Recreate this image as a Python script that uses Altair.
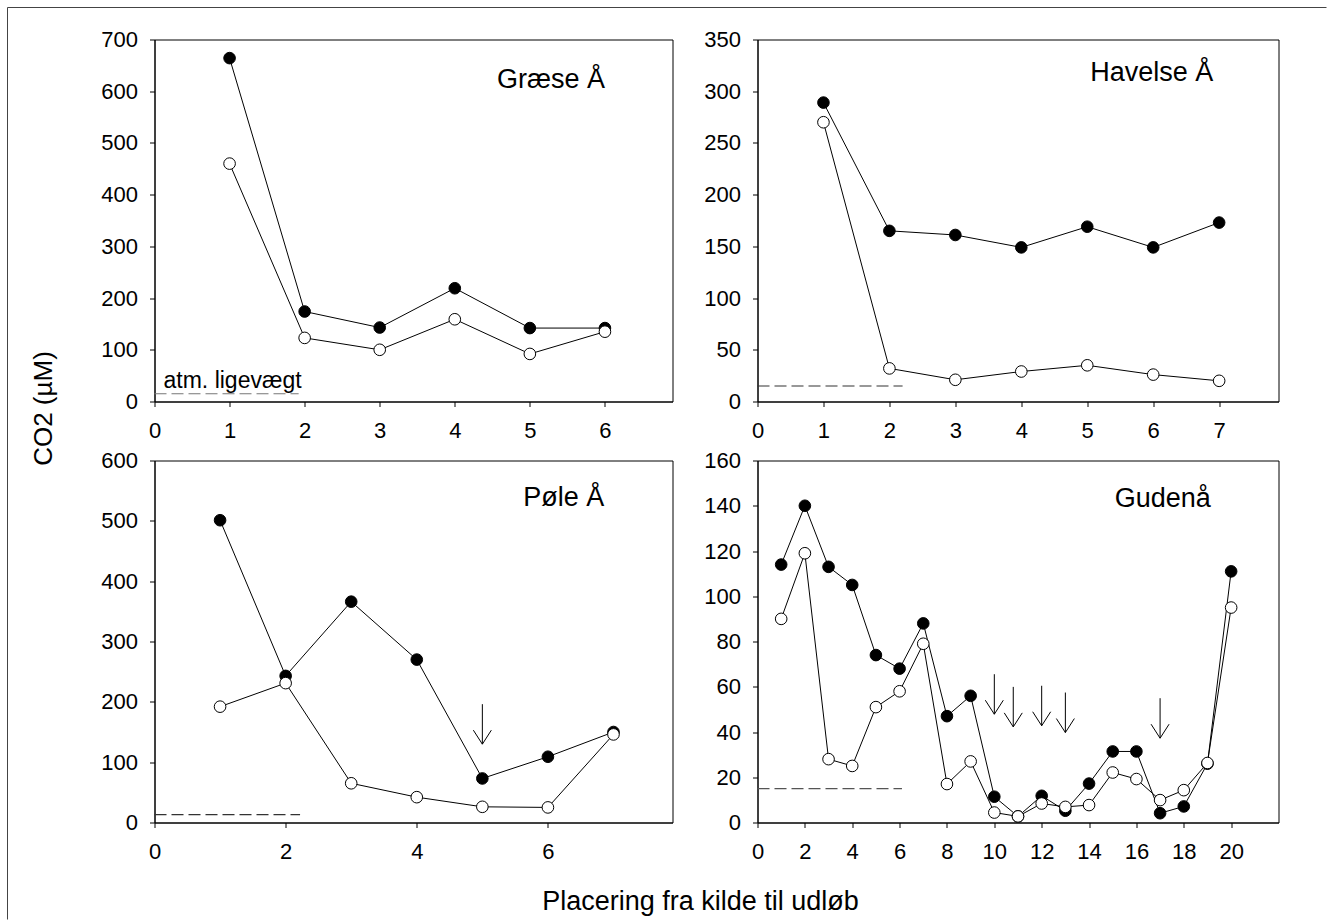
import altair as alt
import pandas as pd

FONT = "Liberation Sans"

# ---------------- data ----------------
graese_pos = [1, 2, 3, 4, 5, 6]
graese_filled = [664, 174, 143, 219, 142, 142]
graese_open = [460, 123, 100, 159, 92, 135]

havelse_pos = [1, 2, 3, 4, 5, 6, 7]
havelse_filled = [289, 165, 161, 149, 169, 149, 173]
havelse_open = [270, 32, 21, 29, 35, 26, 20]

pole_pos = [1, 2, 3, 4, 5, 6, 7]
pole_filled = [501, 243, 366, 270, 73, 109, 150]
pole_open = [192, 231, 65, 42, 26, 25, 146]

gudena_pos = list(range(1, 21))
gudena_filled = [114, 140, 113, 105, 74, 68, 88, 47, 56, 11.4, 2.7, 11.8, 5.2,
                 17.2, 31.4, 31.4, 4.1, 7.1, 26, 111]
gudena_open = [90, 119, 28, 25, 51, 58, 79, 17, 27, 4.4, 2.7, 8.4, 6.9,
               7.7, 22.1, 19.2, 9.9, 14.3, 26.3, 95]

# atmospheric equilibrium (dashed line): end position and level per panel
atm_x_end = [1.92, 2.2, 2.22, 6.1]
atm_level = [15, 15, 13, 15]
atm_color = ["#777777", "#333333", "#333333", "#555555"]

panel_names = ["Græse Å", "Havelse Å", "Pøle Å", "Gudenå"]
label_x = [6.0, 6.91, 6.86, 19.14]
label_y = [607, 310, 524, 139.5]

# arrows (position, mid-height)
pole_arrow_x = [5]
pole_arrow_y = [163]
gudena_arrow_x = [10, 10.8, 12, 13, 17]
gudena_arrow_y = [56.7, 51.1, 51.6, 48.6, 46.1]

atm_text = "atm. ligevægt"
atm_text_x = [0.12]
atm_text_y = [27]

x_title = "Placering fra kilde til udløb"
y_title = "CO2 (µM)"

ARROW = "M0,-1L0,1M-0.45,0.3L0,1L0.45,0.3"


def make_panel(i, pos, filled, opened, xdom, xvals, ydom, yvals, width,
               arrow_x=None, arrow_y=None, extra=None):
    X = alt.X("x:Q", scale=alt.Scale(domain=xdom, nice=False, zero=False),
              axis=alt.Axis(values=xvals, title=None, format="d"))
    Y = alt.Y("y:Q", scale=alt.Scale(domain=ydom, nice=False, zero=False),
              axis=alt.Axis(values=yvals, title=None, format="d"))
    df_f = pd.DataFrame({"x": pos, "y": filled})
    df_o = pd.DataFrame({"x": pos, "y": opened})
    ref = pd.DataFrame({"x": [0], "x2": [atm_x_end[i]], "y": [atm_level[i]]})
    lab = pd.DataFrame({"x": [label_x[i]], "y": [label_y[i]], "t": [panel_names[i]]})

    layers = [
        alt.Chart(ref).mark_rule(color=atm_color[i], strokeWidth=1.2, strokeDash=[12, 5])
        .encode(x=X, x2="x2:Q", y=Y),
        alt.Chart(df_f).mark_line(color="black", strokeWidth=1).encode(x=X, y=Y),
        alt.Chart(df_f).mark_circle(fill="black", stroke="black", strokeWidth=1,
                                    size=135, opacity=1).encode(x=X, y=Y),
        alt.Chart(df_o).mark_line(color="black", strokeWidth=1).encode(x=X, y=Y),
        alt.Chart(df_o).mark_circle(fill="white", stroke="black", strokeWidth=1,
                                    size=135, opacity=1).encode(x=X, y=Y),
        alt.Chart(lab).mark_text(align="right", baseline="alphabetic", font=FONT,
                                 fontSize=27, color="black")
        .encode(x=X, y=Y, text="t:N"),
    ]
    if arrow_x is not None:
        adf = pd.DataFrame({"x": arrow_x, "y": arrow_y})
        layers.append(
            alt.Chart(adf).mark_point(shape=ARROW, size=1600, filled=False,
                                      stroke="black", strokeWidth=1, opacity=1)
            .encode(x=X, y=Y)
        )
    if extra is not None:
        layers.extend(extra)
    return alt.layer(*layers).properties(width=width, height=362)


# extras for the first panel: "atm. ligevægt" label, figure frame, axis titles
one = pd.DataFrame({"a": [0]})
atm_df = pd.DataFrame({"x": atm_text_x, "y": atm_text_y, "t": [atm_text]})
extras = [
    alt.Chart(atm_df).mark_text(align="left", baseline="alphabetic", font=FONT,
                                fontSize=23, color="black")
    .encode(x="x:Q", y="y:Q", text="t:N"),
    alt.Chart(one).mark_rule(color="#444444", strokeWidth=1)
    .encode(x=alt.value(-147), x2=alt.value(1172), y=alt.value(-32)),
    alt.Chart(one).mark_rule(color="#444444", strokeWidth=1)
    .encode(x=alt.value(-147), y=alt.value(-32), y2=alt.value(880)),
    alt.Chart(one).mark_text(text=x_title, font=FONT, fontSize=27, color="black",
                             align="center", baseline="alphabetic")
    .encode(x=alt.value(546), y=alt.value(870)),
    alt.Chart(one).mark_text(text=y_title, font=FONT, fontSize=26, color="black",
                             align="center", baseline="middle", angle=270)
    .encode(x=alt.value(-111), y=alt.value(369)),
]

p1 = make_panel(0, graese_pos, graese_filled, graese_open, [0, 6.9],
                list(range(0, 7)), [0, 700], list(range(0, 701, 100)), 518,
                extra=extras)
p2 = make_panel(1, havelse_pos, havelse_filled, havelse_open, [0, 7.9],
                list(range(0, 8)), [0, 350], list(range(0, 351, 50)), 521)
p3 = make_panel(2, pole_pos, pole_filled, pole_open, [0, 7.9],
                [0, 2, 4, 6], [0, 600], list(range(0, 601, 100)), 518,
                arrow_x=pole_arrow_x, arrow_y=pole_arrow_y)
p4 = make_panel(3, gudena_pos, gudena_filled, gudena_open, [0, 22],
                list(range(0, 21, 2)), [0, 160], list(range(0, 161, 20)), 521,
                arrow_x=gudena_arrow_x, arrow_y=gudena_arrow_y)

chart = (
    alt.concat(p1, p2, p3, p4, columns=2, spacing={"row": 59, "column": 85},
               bounds="flush")
    .resolve_scale(x="independent", y="independent")
    .properties(padding={"left": 6.5, "top": 6.5, "right": 0, "bottom": 0},
                background="white")
    .configure_view(stroke="black", strokeWidth=1)
    .configure_axis(domainColor="black", domainWidth=1, tickColor="black",
                    tickWidth=1, tickSize=5, labelFont=FONT, labelFontSize=22,
                    labelColor="black", grid=False, labelFlush=False,
                    labelOverlap=False)
    .configure_axisX(labelPadding=14)
    .configure_axisY(labelPadding=12)
)

chart.save("out.html", embed_options={"renderer": "svg", "actions": False})
